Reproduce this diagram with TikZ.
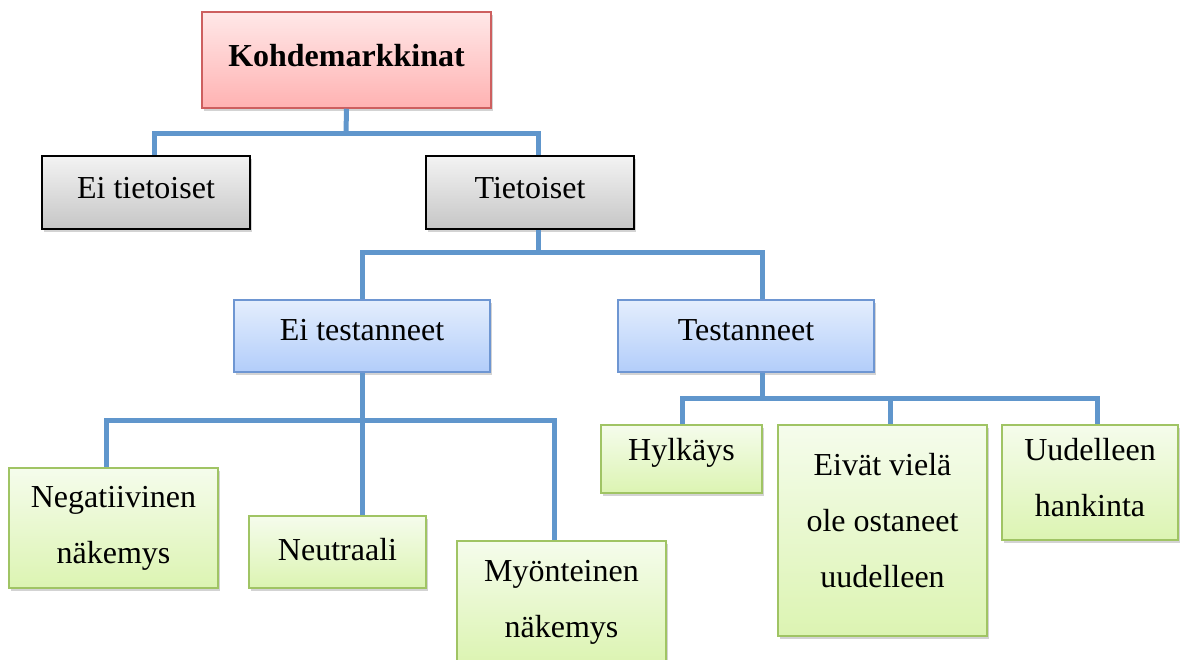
\documentclass[tikz,border=0pt]{standalone}
\usepackage{fontspec}
\setmainfont{Liberation Serif}
\usepackage{tikz}
\usetikzlibrary{shadows}
\definecolor{linecolor}{RGB}{96,150,204}
\definecolor{redtop}{RGB}{255,232,232}
\definecolor{redbot}{RGB}{255,178,178}
\definecolor{redline}{RGB}{205,95,95}
\definecolor{graytop}{RGB}{243,243,243}
\definecolor{graybot}{RGB}{198,198,198}
\definecolor{bluetop}{RGB}{228,238,253}
\definecolor{bluebot}{RGB}{178,205,250}
\definecolor{blueline}{RGB}{110,150,210}
\definecolor{greentop}{RGB}{245,252,236}
\definecolor{greenbot}{RGB}{220,244,178}
\definecolor{greenline}{RGB}{160,196,100}

\begin{document}
\begin{tikzpicture}[x=1pt,y=-1pt,
  box/.style={draw,line width=1.5pt,inner sep=0pt,align=center,
    font=\fontsize{32}{56}\selectfont,
    drop shadow={shadow xshift=2pt,shadow yshift=-3pt,opacity=0.35}},
  lift/.style={execute at end node={\rule[-#1pt]{0pt}{#1pt}}},
  redbox/.style={box,draw=redline,top color=redtop,bottom color=redbot,
    font=\fontsize{32}{56}\selectfont\bfseries},
  graybox/.style={box,draw=black,top color=graytop,bottom color=graybot},
  bluebox/.style={box,draw=blueline,top color=bluetop,bottom color=bluebot},
  greenbox/.style={box,draw=greenline,top color=greentop,bottom color=greenbot},
  conn/.style={linecolor,line width=5pt}]
   \clip (0,0) rectangle (1186,659);
%% level 0 and 1
   \node[redbox,lift=10,minimum width=289,minimum height=96] (K) at (346.5,60) {Kohdemarkkinat};
   \node[graybox,lift=10,minimum width=208,minimum height=73] (eit) at (146,192.5) {Ei tietoiset};
   \node[graybox,lift=10,minimum width=208,minimum height=73] (tie) at (530,192.5) {Tietoiset};
%% level 2
   \node[bluebox,lift=12,minimum width=256,minimum height=72] (eitest) at (362,336) {Ei testanneet};
   \node[bluebox,lift=12,minimum width=256,minimum height=72] (test) at (746,336) {Testanneet};
%% level 3
   \node[greenbox,minimum width=209,minimum height=120] (neg) at (113.5,528) {Negatiivinen\\n\"akemys};
   \node[greenbox,lift=6,minimum width=177,minimum height=72] (neu) at (337.5,552) {Neutraali};
   \node[greenbox,minimum width=209,minimum height=122] (myo) at (561.5,602) {My\"onteinen\\n\"akemys};
   \node[greenbox,lift=19,minimum width=161,minimum height=68] (hyl) at (681.5,459) {Hylk\"ays};
   \node[greenbox,lift=20,minimum width=209,minimum height=211] (eiv) at (882.5,530.5) {Eiv\"at viel\"a\\ole ostaneet\\uudelleen};
   \node[greenbox,lift=10,minimum width=176,minimum height=115] (uud) at (1090,482.5) {Uudelleen\\hankinta};
%% connectors
   \coordinate (j1) at (346,133);
   \coordinate (j2) at (538,252);
   \coordinate (j3) at (362,420);
   \coordinate (j4) at (762,398);
   \draw[conn] (K.south) -- (j1);
   \draw[conn] ([xshift=8]tie.south) -- (j2);
   \draw[conn] (eitest.south) -- (j3);
   \draw[conn] ([xshift=16]test.south) -- (j4);
\foreach \n/\dx in {eit/8, tie/8}
   \draw[conn] (j1) -| ([xshift=\dx]\n.north);
\foreach \n/\dx in {eitest/0, test/16}
   \draw[conn] (j2) -| ([xshift=\dx]\n.north);
\foreach \n/\dx in {neg/-7.5, neu/24.5, myo/-7.5}
   \draw[conn] (j3) -| ([xshift=\dx]\n.north);
\foreach \n/\dx in {hyl/0.5, eiv/7.5, uud/7}
   \draw[conn] (j4) -| ([xshift=\dx]\n.north);
\end{tikzpicture}
\end{document}
